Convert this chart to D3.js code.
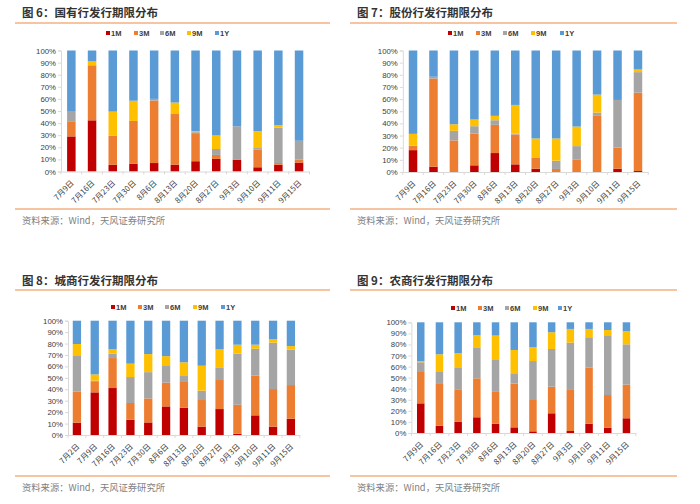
<!DOCTYPE html>
<html><head><meta charset="utf-8">
<script src="https://cdn.jsdelivr.net/npm/d3@7"></script>
<style>
html,body{margin:0;padding:0;background:#fff;}
svg{display:block;font-family:"Liberation Sans","Noto Sans CJK SC",sans-serif;}
</style></head>
<body>
<svg id="c" width="700" height="504"></svg>
<script>
// ---------- data ----------
const seriesNames = ["1M","3M","6M","9M","1Y"];
const seriesColors = ["#C00000","#ED7D31","#A5A5A5","#FFC000","#5B9BD5"];
const yTicks = [0,10,20,30,40,50,60,70,80,90,100];

const titles = ["图 6：国有行发行期限分布","图 7：股份行发行期限分布","图 8：城商行发行期限分布","图 9：农商行发行期限分布"];
const sourceText = "资料来源：Wind，天风证券研究所";

const catsA = ["7月9日","7月16日","7月23日","7月30日","8月6日","8月13日","8月20日","8月27日","9月3日","9月10日","9月11日","9月15日"];
const catsB = ["7月2日","7月9日","7月16日","7月23日","7月30日","8月6日","8月13日","8月20日","8月27日","9月3日","9月10日","9月11日","9月15日"];

// 国有行
const p1_1M = [29,42.3,5.5,6.3,7,5.7,8.5,10.4,9.8,3.5,5.5,7.4];
const p1_3M = [12,45.4,24,35.5,51.7,41.8,23.2,3.3,0,14.5,1.5,2.4];
const p1_6M = [9,0.3,0,0,1.3,0,0.8,4.9,27.6,1.4,29.3,15.6];
const p1_9M = [0,3,20,16.7,0,9.5,0.8,11.2,0,13.9,1.9,0];
const p1_1Y = [50,9,50.5,41.5,40,43,66.7,70.2,62.6,66.7,61.8,74.6];
// 股份行
const p2_1M = [18,4.4,0,5.5,15.6,6.3,2.7,0,0,0,2.7,0.8];
const p2_3M = [3.6,72.6,26,26.2,23.2,24.6,9.3,2.5,10.4,46.2,17.5,64.5];
const p2_6M = [0,1.4,7.9,6,3.8,0.6,0,6.8,10.9,2.7,39.1,16.9];
const p2_9M = [9.8,0,5.4,5.5,3.6,23.7,15.6,18.3,16.1,14.8,0,2.2];
const p2_1Y = [68.6,21.6,60.7,56.8,53.8,44.8,72.4,72.4,62.6,36.3,40.7,15.6];
// 城商行
const p3_1M = [10.8,37.3,41.1,13.4,11,25,23.9,7.3,22.7,1.2,17.2,7.3,14.3];
const p3_3M = [27.1,9.1,26.2,14.6,21,20.8,22.5,23.3,25.4,25.3,34.7,32.9,29.4];
const p3_6M = [31.2,1.1,3.8,22.7,23,15.2,5.2,8.2,11.1,44.6,23.6,40.6,30.9];
const p3_9M = [10.5,5.5,3.8,11.7,15.8,8,12,21.8,15.7,7.9,3.5,2.9,3.2];
const p3_1Y = [20.4,47,25.1,37.6,29.2,31,36.4,39.4,25.1,21,21,16.3,22.2];
// 农商行
const p4_1M = [26.8,6.6,10.2,14.2,8.4,5.1,1.5,17.8,1.8,8.4,4.8,13.3];
const p4_3M = [28.3,37.7,29.3,35.2,29.3,39.5,28.3,24.1,37.1,50.6,29.5,30.4];
const p4_6M = [8.8,10.8,19.2,28,28.9,8.7,35.2,34,42.7,26.8,54,36.4];
const p4_9M = [1.1,16,13.3,10.9,21.4,21.7,12.4,15.1,12.4,8.2,4.7,11.8];
const p4_1Y = [35,28.9,28,11.7,12,25,22.6,9,6,6,7,8.1];

// ---------- layout ----------
const panels = [
  {title:titles[0], cats:catsA, vals:[p1_1M,p1_3M,p1_6M,p1_9M,p1_1Y],
   titleX:22, titleY:17, lineX:[15,330], topLine:23, botLine:209, srcY:224,
   legY:33, legX:[108,136,162,189,217], x0:61, x1:309.4, yT:50.5, yB:171.5, bw:8.5},
  {title:titles[1], cats:catsA, vals:[p2_1M,p2_3M,p2_6M,p2_9M,p2_1Y],
   titleX:357, titleY:17, lineX:[350,677], topLine:23, botLine:209, srcY:224,
   legY:33, legX:[450,478,505,533,562], x0:402.8, x1:648.2, yT:50.5, yB:172, bw:8.5},
  {title:titles[2], cats:catsB, vals:[p3_1M,p3_3M,p3_6M,p3_9M,p3_1Y],
   titleX:22, titleY:285, lineX:[15,330], topLine:290, botLine:476, srcY:491,
   legY:307, legX:[113,140,167,195,223], x0:68, x1:299.8, yT:320.7, yB:435, bw:8.3},
  {title:titles[3], cats:catsA, vals:[p4_1M,p4_3M,p4_6M,p4_9M,p4_1Y],
   titleX:357, titleY:285, lineX:[350,677], topLine:290, botLine:476, srcY:491,
   legY:308, legX:[453,480,507,535,560], x0:411.4, x1:635.8, yT:322.3, yB:433, bw:7.5}
];

const svg = d3.select("#c");

panels.forEach(p => {
  const g = svg.append("g");
  g.append("text").attr("x",p.titleX).attr("y",p.titleY)
    .attr("font-family","'Noto Sans CJK SC',sans-serif")
    .attr("font-size",11.5).attr("font-weight","bold").attr("fill","#333")
    .text(p.title);
  [p.topLine,p.botLine].forEach(yy=>{
    g.append("line").attr("x1",p.lineX[0]).attr("x2",p.lineX[1]).attr("y1",yy).attr("y2",yy)
      .attr("stroke","#F4B183").attr("stroke-width",1.5);
  });
  g.append("text").attr("x",p.titleX).attr("y",p.srcY)
    .attr("font-family","'Noto Sans CJK SC',sans-serif")
    .attr("font-size",9.3).attr("fill","#7f7f7f").text(sourceText);

  seriesNames.forEach((s,i)=>{
    g.append("rect").attr("x",p.legX[i]-2).attr("y",p.legY-2).attr("width",4).attr("height",4)
      .attr("fill",seriesColors[i]);
    g.append("text").attr("x",p.legX[i]+3).attr("y",p.legY+3)
      .attr("font-size",7.5).attr("font-weight","bold").attr("fill","#404040").text(s);
  });

  const x = d3.scaleBand().domain(p.cats).range([p.x0,p.x1]);
  const y = d3.scaleLinear().domain([0,100]).range([p.yB,p.yT]);

  const rows = p.cats.map((c,j)=>{
    const o = {cat:c};
    seriesNames.forEach((s,i)=>o[s]=p.vals[i][j]);
    return o;
  });
  const stacked = d3.stack().keys(seriesNames)(rows);

  const ya = g.append("g").attr("transform",`translate(${p.x0},0)`)
    .call(d3.axisLeft(y).tickValues(yTicks).tickFormat(d=>d+"%").tickSize(3).tickPadding(2));
  ya.select(".domain").attr("stroke","#d9d9d9");
  ya.selectAll(".tick line").attr("stroke","#d9d9d9");
  ya.selectAll("text").attr("font-size",7.8).attr("fill","#404040");

  stacked.forEach((layer,i)=>{
    g.append("g").selectAll("rect").data(layer).join("rect")
      .attr("x",d=>x(d.data.cat)+x.bandwidth()/2-p.bw/2)
      .attr("width",p.bw)
      .attr("y",d=>y(d[1]))
      .attr("height",d=>Math.max(0,y(d[0])-y(d[1])))
      .attr("fill",seriesColors[i]);
  });

  const xa = g.append("g").attr("transform",`translate(0,${p.yB})`)
    .call(d3.axisBottom(x).tickSize(0).tickPadding(0));
  xa.select(".domain").attr("stroke","#d9d9d9");
  const bounds = p.cats.map(c=>x(c)).concat([p.x1]);
  xa.selectAll(".bt").data(bounds).join("line").attr("class","bt")
    .attr("x1",d=>d).attr("x2",d=>d).attr("y1",0).attr("y2",3).attr("stroke","#d9d9d9");
  xa.selectAll(".tick text")
    .attr("font-family","'Noto Sans CJK SC',sans-serif")
    .attr("font-size",7.8).attr("fill","#404040")
    .attr("text-anchor","end")
    .attr("dy",0)
    .attr("transform","translate(3,12) rotate(-45)");
});
</script>
</body></html>
